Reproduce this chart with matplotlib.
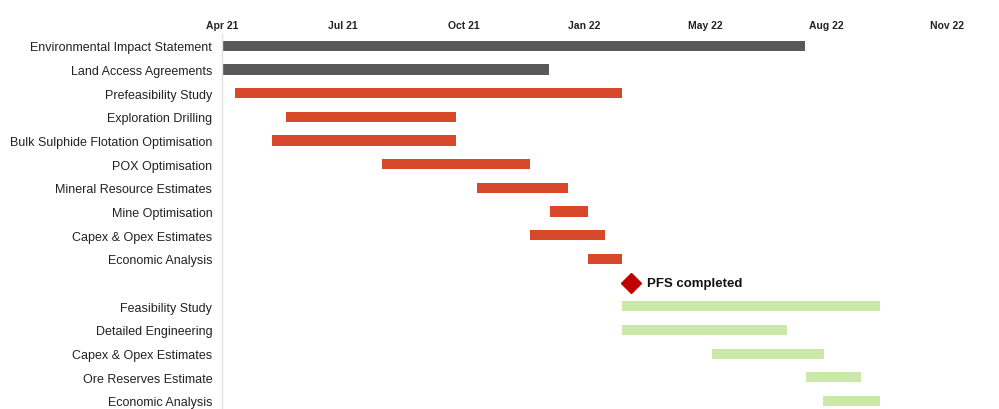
import matplotlib.pyplot as plt

plt.rcParams['font.family'] = ['Liberation Sans', 'DejaVu Sans']

# x values in months from Apr 21
tasks = ['Environmental Impact Statement', 'Land Access Agreements', 'Prefeasibility Study',
         'Exploration Drilling', 'Bulk Sulphide Flotation Optimisation', 'POX Optimisation',
         'Mineral Resource Estimates', 'Mine Optimisation', 'Capex & Opex Estimates',
         'Economic Analysis', '', 'Feasibility Study', 'Detailed Engineering',
         'Capex & Opex Estimates', 'Ore Reserves Estimate', 'Economic Analysis']
starts = [0.0, 0.0, 0.32, 1.59, 1.24, 3.97, 6.33, 8.15, 7.65, 9.09, None,
          9.93, 9.93, 12.17, 14.50, 14.92]
ends = [14.48, 8.12, 9.93, 5.81, 5.81, 7.65, 8.59, 9.09, 9.51, 9.93, None,
        16.34, 14.03, 14.95, 15.87, 16.34]
groups = ['grey', 'grey', 'pfs', 'pfs', 'pfs', 'pfs', 'pfs', 'pfs', 'pfs', 'pfs', None,
          'fs', 'fs', 'fs', 'fs', 'fs']
milestone_x = 10.16
milestone_row = 10
milestone_label = 'PFS completed'

tick_pos = [0, 3, 6, 9, 12, 15, 18]
tick_labels = ['Apr 21', 'Jul 21', 'Oct 21', 'Jan 22', 'May 22', 'Aug 22', 'Nov 22']

colors = {'grey': '#595959', 'pfs': '#d8492b', 'fs': '#cbe8ab'}

fig = plt.figure(figsize=(9.99, 4.10), dpi=100)
ax = fig.add_axes([0.2222, 0.0, 0.981 - 0.2222, 1 - 35 / 410])

for i in range(len(tasks)):
    if starts[i] is None:
        continue
    ax.barh(i, ends[i] - starts[i], left=starts[i], height=0.43,
            color=colors[groups[i]], linewidth=0)

ax.plot(milestone_x, milestone_row, marker='D', markersize=10, color='#c00000', linestyle='None')
ax.text(milestone_x + 0.4, milestone_row, milestone_label, fontsize=9.5, fontweight='bold',
        va='center', ha='left', color='#111111')

ax.set_xlim(0, (980 - 222) / 40.27)
ax.set_ylim(15.34, -0.5)
ax.set_yticks(range(len(tasks)))
ax.set_yticklabels(tasks, fontsize=9, color='#222222')
ax.set_xticks(tick_pos)
ax.set_xticklabels(tick_labels, fontsize=7.5, fontweight='bold', color='#222222')
ax.xaxis.tick_top()
ax.tick_params(axis='x', length=0, pad=3)
ax.tick_params(axis='y', length=0, pad=7)

for s in ['top', 'right', 'bottom']:
    ax.spines[s].set_visible(False)
ax.spines['left'].set_color('#e3e3e3')
ax.spines['left'].set_linewidth(1)

plt.savefig('out.png', dpi=100)
